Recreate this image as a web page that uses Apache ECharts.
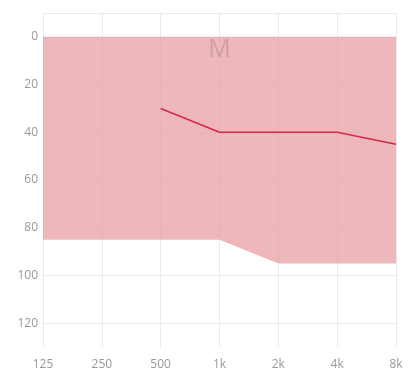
<!DOCTYPE html>
<html>
<head>
<meta charset="utf-8">
<script src="https://cdn.jsdelivr.net/npm/echarts@6/dist/echarts.min.js"></script>
<style>
  html, body { margin: 0; padding: 0; background: #fff; }
  #chart { width: 412px; height: 385px; }
</style>
</head>
<body>
<div id="chart"></div>
<script>
// frequencies (Hz) on the x axis
var freqs = ['125', '250', '500', '1k', '2k', '4k', '8k'];
// hearing level ticks (dB)
var levelTicks = [0, 20, 40, 60, 80, 100, 120];
// shaded range lower edge
var rangeBottom = [85, 85, 85, 85, 95, 95, 95];
// measured threshold line
var threshold = [null, null, 30, 40, 40, 40, 45];
// marker "M"
var markerPos = ['1k', 5.5];

var chart = echarts.init(document.getElementById('chart'));

var option = {
    animation: false,
    grid: { left: 43, right: 16, top: 13, bottom: 38 },
    xAxis: [
        {
            type: 'category',
            data: freqs,
            boundaryGap: false,
            axisLine: { lineStyle: { color: '#e3e3e3' } },
            axisTick: { show: false },
            axisLabel: { color: '#999', fontSize: 12, margin: 12, fontFamily: 'Open Sans' },
            splitLine: { show: true, lineStyle: { color: '#ebebeb' } }
        },
        {
            type: 'category',
            data: freqs,
            position: 'top',
            boundaryGap: false,
            axisLine: { show: true, lineStyle: { color: '#ebebeb' } },
            axisTick: { show: false },
            axisLabel: { show: false }
        }
    ],
    yAxis: {
        type: 'value',
        inverse: true,
        min: -10,
        max: 130,
        axisLine: { show: false },
        axisTick: { show: false, customValues: levelTicks },
        axisLabel: { color: '#999', fontSize: 12, margin: 5, fontFamily: 'Open Sans', customValues: levelTicks },
        splitLine: { show: true, lineStyle: { color: '#ebebeb' } }
    },
    series: [
        {
            type: 'line',
            data: rangeBottom,
            symbol: 'none',
            lineStyle: { width: 0 },
            areaStyle: { color: 'rgba(231,155,162,0.72)', opacity: 1, origin: 'auto' },
            z: 3
        },
        {
            type: 'line',
            data: threshold,
            symbol: 'none',
            lineStyle: { color: '#d6294a', width: 1.6 },
            z: 4
        },
        {
            type: 'scatter',
            data: [markerPos],
            symbolSize: 0,
            label: {
                show: true,
                position: 'inside',
                formatter: 'M',
                fontSize: 25,
                fontFamily: 'Open Sans',
                color: 'rgba(150,120,125,0.45)'
            },
            z: 5
        }
    ]
};

chart.setOption(option);
</script>
</body>
</html>
